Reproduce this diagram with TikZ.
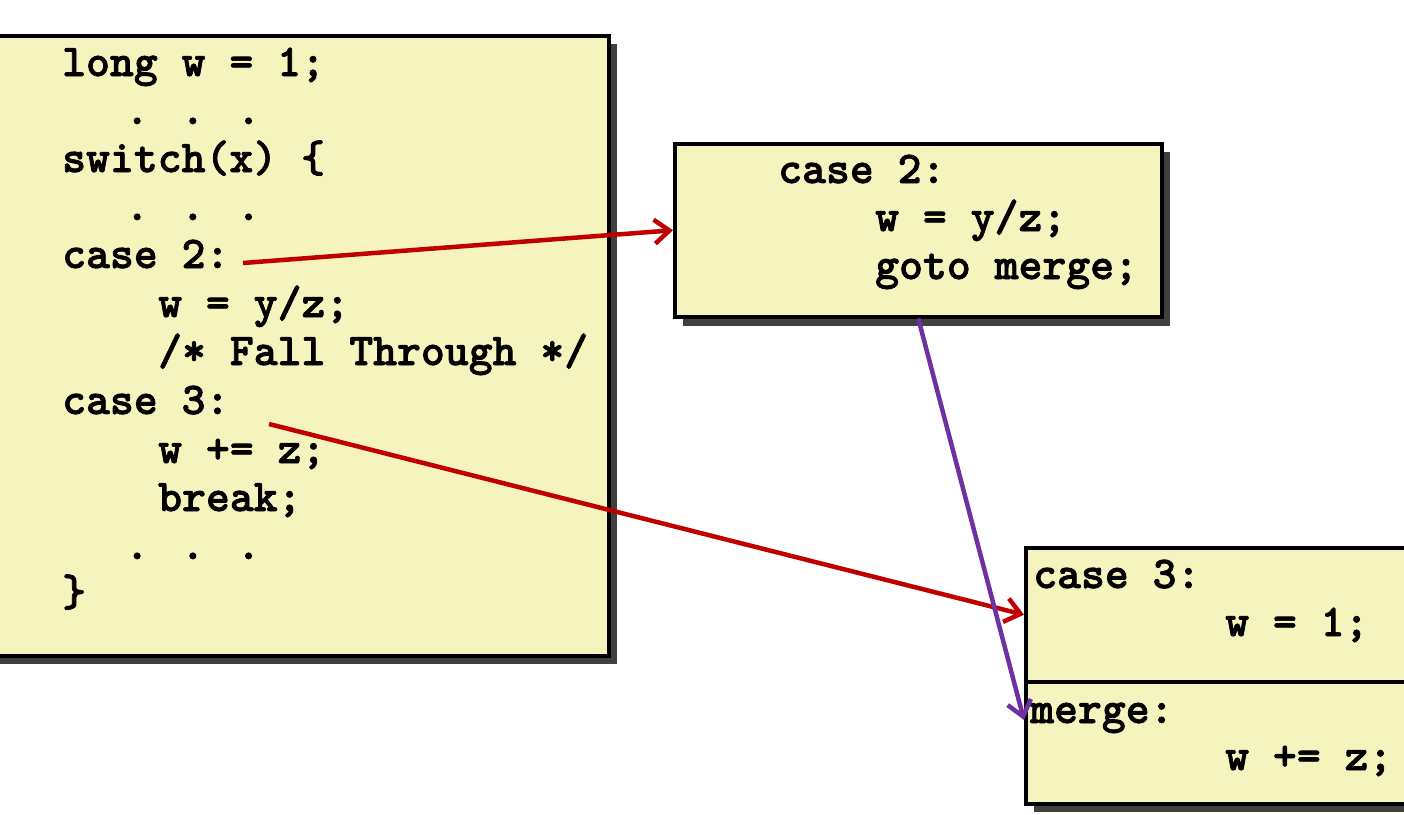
\documentclass[tikz,border=0pt]{standalone}
\usepackage{fontspec}
\newfontfamily\codefont{lmmonolt10-bold}[Extension=.otf, FakeBold=1.6]
\usetikzlibrary{arrows.meta}
\definecolor{boxfill}{HTML}{F5F4BE}
\definecolor{shadowgray}{HTML}{404040}
\definecolor{arrred}{HTML}{C00000}
\definecolor{arrpurple}{HTML}{7030A0}
\tikzset{
  codebox/.style={draw=black, line width=3.5pt, fill=boxfill, inner sep=0pt, anchor=north west},
  shadowbox/.style={fill=shadowgray, draw=none},
  code/.style={anchor=base west, inner sep=0pt, font=\fontsize{45.5}{54}\codefont},
  redarrow/.style={draw=arrred, line width=4.5pt, -{Straight Barb[length=15pt,width=24pt,line width=4.5pt]}},
  purplearrow/.style={draw=arrpurple, line width=4.5pt, -{Straight Barb[length=15pt,width=24pt,line width=4.5pt]}}
}
\begin{document}
\begin{tikzpicture}[x=1pt,y=-1pt]
\useasboundingbox (0,0) rectangle (1404,814);
\clip (0,0) rectangle (1404,814);
% shadows
\fill[shadowbox] (-10,44) rectangle (617,664);
\fill[shadowbox] (683,152) rectangle (1170,326);
\fill[shadowbox] (1034,556) rectangle (1430,812);
% boxes
\node[codebox, minimum width=627pt, minimum height=620pt] (leftbox) at (-20,34) {};
\node[codebox, minimum width=487pt, minimum height=173pt] (midbox) at (673,142) {};
\node[codebox, minimum width=400pt, minimum height=134pt] (case3box) at (1024,546) {};
\node[codebox, minimum width=400pt, minimum height=122pt] (mergebox) at (1024,680) {};
% left code
\node[code] (l1) at (62,76) {long w = 1;};
\node[code] (l2) at (125,124) {. . .};
\node[code] (l3) at (62,172) {switch(x) \{};
\node[code] (l4) at (125,220) {. . .};
\node[code] (l5) at (62,268) {case 2:};
\node[code] (l6) at (158,317) {w = y/z;};
\node[code] (l7) at (158,365) {/* Fall Through */};
\node[code] (l8) at (62,414) {case 3:};
\node[code] (l9) at (158,463) {w += z;};
\node[code] (l10) at (158,511) {break;};
\node[code] (l11) at (125,559) {. . .};
\node[code] (l12) at (62,606) {\}};
% middle code
\node[code] (m1) at (778,183) {case 2:};
\node[code] (m2) at (875,231) {w = y/z;};
\node[code] (m3) at (875,279) {goto merge;};
% right code
\node[code] (r1) at (1033,588) {case 3:};
\node[code] (r2) at (1225,636) {w = 1;};
\node[code] (r3) at (1030,723) {merge:};
\node[code] (r4) at (1225,770) {w += z;};
% connectors
\coordinate (s1) at (243,263);
\coordinate (s2) at (269,424);
\coordinate (mergein) at (1024,720);
\draw[redarrow] (s1) -- (midbox.west);
\draw[redarrow] (s2) -- (case3box.west);
\draw[purplearrow] (midbox.south) -- (mergein);
\end{tikzpicture}
\end{document}
